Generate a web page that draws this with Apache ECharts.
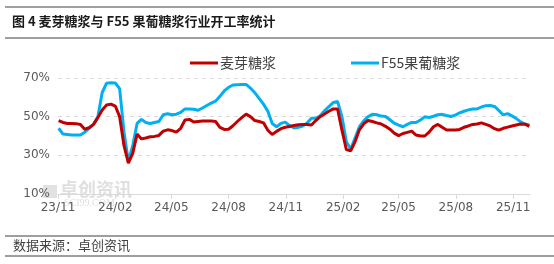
<!DOCTYPE html>
<html>
<head>
<meta charset="utf-8">
<script src="https://cdn.jsdelivr.net/npm/echarts@6/dist/echarts.min.js"></script>
<style>
html,body{margin:0;padding:0;background:#fff;}
#chart{width:554px;height:264px;}
</style>
</head>
<body>
<div id="chart"></div>
<script>
// ---- data ----
const titleText = '图 4 麦芽糖浆与 F55 果葡糖浆行业开工率统计';
const sourceText = '数据来源：卓创资讯';
const seriesNames = ['麦芽糖浆', 'F55果葡糖浆'];
const firstWeek = '2023-11-02'; // weekly observations starting here
const weekCount = 109;
const tickDates = ['2023-11-01','2024-02-01','2024-05-01','2024-08-01','2024-11-01','2025-02-01','2025-05-01','2025-08-01','2025-11-01'];
const tickLabels = ['23/11','24/02','24/05','24/08','24/11','25/02','25/05','25/08','25/11'];
const yTicks = [10, 30, 50, 70];

const maltose = [
48,47,46.5,46.5,46.4,46,43.5,44.3,46,49.5,
53.5,56,56.5,55.5,50,35,26,31,41,38.5,
39,39.6,39.8,40.3,42.5,43.2,42.8,42,44,48.3,
48.6,47.2,47.5,47.7,47.7,47.7,47.5,44.5,43.4,43.5,
45.3,47.5,49.5,51.3,50,48,47.5,46.8,43,40.8,
42.4,43.8,44.5,44.9,45.4,45.8,46,45.9,45.7,48,
50,51.4,52.8,54,54,43,33,32.3,37,43.2,
46.3,48,47.5,46.8,46.2,45,43.5,41.5,40.2,41.3,
41.9,42.5,40.5,40,40,42,44.8,46,44.5,43.1,
43.1,43.1,43.4,44.5,45.2,46,46.2,46.8,46,45.2,
43.8,43,44,44.6,45.2,45.7,46.2,46.1,45
];
const hfcs55 = [
44,41,40.8,40.5,40.5,40.5,42,44,46,50,
62.5,67.3,67.6,67.4,64.5,42,27,35,46.5,48.6,
47,46.5,47,47.5,51,51.5,51,51.3,52.2,54,
54,53.8,53.3,54.5,55.8,57,58,60.5,63.3,65.2,
66.4,66.5,66.6,66.7,64.8,62.4,59.5,56.5,52.8,46.5,
44.8,46.5,47.2,45.4,44.1,44.5,45.2,46.7,49.2,49.2,
50.5,53,55.2,57.3,57.8,50,37,33.3,39,44.8,
47.8,50,51.2,51,50.3,50.1,48.4,46.6,45.6,44.8,
46,47,47,48.3,49.9,49.6,50.2,51,51.2,50.6,
50.1,50.8,52,52.8,53.5,54,54,55,55.7,55.8,
55.3,53.2,50.9,51.6,50.4,49,47.3,46.2,45.7
];

// ---- build ----
const DAY = 86400000;
const origin = Date.parse(tickDates[0] + 'T00:00:00Z');
const startMs = Date.parse(firstWeek + 'T00:00:00Z');
const weekOffsets = [];
for (let i = 0; i < weekCount; i++) weekOffsets.push((startMs - origin) / DAY + 7 * i);
const tickOffsets = tickDates.map(d => (Date.parse(d + 'T00:00:00Z') - origin) / DAY);
const pairs = arr => arr.map((v, i) => [weekOffsets[i], v]);

const chart = echarts.init(document.getElementById('chart'), null, {renderer: 'canvas'});
const labelFont = 'DejaVu Sans, "Noto Sans CJK SC", sans-serif';
const cjkFont = '"Noto Sans CJK SC", sans-serif';

chart.setOption({
  backgroundColor: '#ffffff',
  animation: false,
  grid: {left: 58, right: 24, top: 78, bottom: 70, containLabel: false},
  legend: {
    left: 185, top: 51,
    itemWidth: 28, itemHeight: 3, itemGap: 75,
    icon: 'rect',
    textStyle: {fontFamily: cjkFont, fontSize: 14, color: '#404040', padding: [0,0,0,-3]},
    data: seriesNames
  },
  xAxis: {
    type: 'value',
    min: 0,
    max: weekOffsets[weekOffsets.length - 1] + 1,
    axisLine: {show: true, lineStyle: {color: '#d9d9d9', width: 1}},
    axisTick: {show: true, customValues: tickOffsets, length: 5, lineStyle: {color: '#d9d9d9'}},
    axisLabel: {
      customValues: tickOffsets,
      formatter: v => { const k = tickOffsets.indexOf(v); return k >= 0 ? tickLabels[k] : ''; },
      fontFamily: labelFont, fontSize: 12, color: '#595959', margin: 8
    },
    splitLine: {show: false}
  },
  yAxis: {
    type: 'value',
    min: yTicks[0], max: yTicks[yTicks.length - 1], interval: 20,
    axisLine: {show: false},
    axisTick: {show: false},
    axisLabel: {formatter: '{value}%', fontFamily: labelFont, fontSize: 12, color: '#595959', margin: 8},
    splitLine: {show: true, lineStyle: {color: '#d9d9d9', type: [4, 4], width: 1}}
  },
  series: [
    {name: seriesNames[0], type: 'line', data: pairs(maltose), showSymbol: false, symbol: 'none',
     lineStyle: {color: '#C00000', width: 3}, itemStyle: {color: '#C00000'}, z: 3},
    {name: seriesNames[1], type: 'line', data: pairs(hfcs55), showSymbol: false, symbol: 'none',
     lineStyle: {color: '#00B0F0', width: 3}, itemStyle: {color: '#00B0F0'}, z: 2}
  ],
  graphic: [
    {type: 'line', shape: {x1: 5, y1: 7, x2: 554, y2: 7}, style: {stroke: '#7f7f7f', lineWidth: 1.5}},
    {type: 'line', shape: {x1: 5, y1: 38, x2: 554, y2: 38}, style: {stroke: '#7f7f7f', lineWidth: 1.5}},
    {type: 'text', left: 12, top: 15, style: {text: titleText, font: 'bold 13px "Noto Sans CJK SC", sans-serif', fill: '#1a1a1a'}},
    {type: 'line', shape: {x1: 5, y1: 236, x2: 554, y2: 236}, style: {stroke: '#7f7f7f', lineWidth: 1.5}},
    {type: 'line', shape: {x1: 5, y1: 256, x2: 554, y2: 256}, style: {stroke: '#7f7f7f', lineWidth: 1.5}},
    {type: 'text', left: 13, top: 239, style: {text: sourceText, font: '13px "Noto Sans CJK SC", sans-serif', fill: '#404040'}},
    {type: 'rect', shape: {x: 43, y: 185, width: 14, height: 13}, style: {fill: '#bfbfbf', opacity: 0.45}, z: 0},
    {type: 'text', left: 60, top: 180, style: {text: '卓创资讯', font: 'bold 18px "Noto Sans CJK SC", sans-serif', fill: '#bfbfbf', opacity: 0.5}, z: 0},
    {type: 'text', left: 64, top: 198, style: {text: 'SCI99.COM', font: '10px "Liberation Serif", serif', fill: '#bfbfbf', opacity: 0.5}, z: 0}
  ]
});
</script>
</body>
</html>
